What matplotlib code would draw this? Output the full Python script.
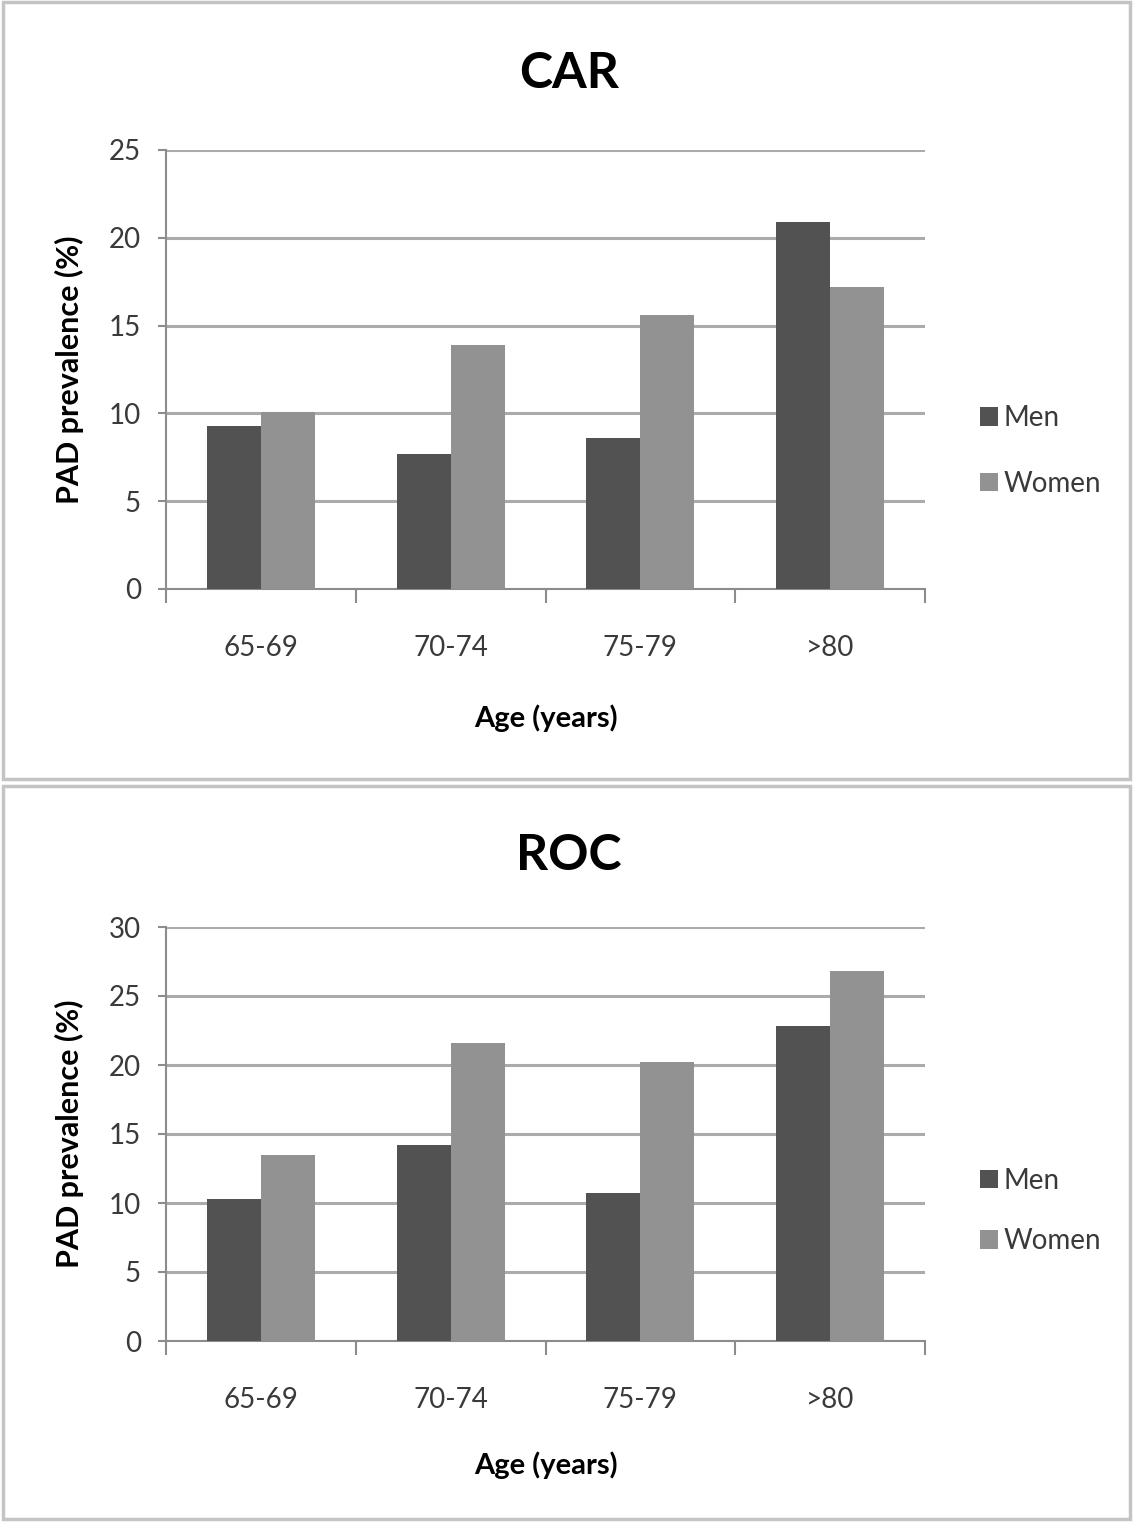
import matplotlib
matplotlib.use("Agg")
import matplotlib.pyplot as plt
from matplotlib.patches import Rectangle

plt.rcParams['font.family'] = ['Lato', 'DejaVu Sans']

categories = ["65-69", "70-74", "75-79", ">80"]
series_names = ["Men", "Women"]
car_men = [9.3, 7.7, 8.6, 20.9]
car_women = [10.1, 13.9, 15.6, 17.2]
roc_men = [10.3, 14.2, 10.7, 22.8]
roc_women = [13.5, 21.6, 20.2, 26.8]
car_yticks = [0, 5, 10, 15, 20, 25]
roc_yticks = [0, 5, 10, 15, 20, 25, 30]

W, H = 1133, 1522
fig = plt.figure(figsize=(W / 100, H / 100), dpi=100)

MEN_C = "#525252"
WOMEN_C = "#929292"
GRID_C = "#ababab"
AX_C = "#8c8c8c"
TXT_C = "#3a3a3a"


def px_axes(left, top, right, bottom):
    return fig.add_axes([left / W, (H - bottom) / H, (right - left) / W, (bottom - top) / H])


def panel(top, bottom):
    fig.patches.append(Rectangle((3 / W, (H - bottom) / H), (W - 6) / W, (bottom - top) / H,
                                 transform=fig.transFigure, fill=False,
                                 edgecolor="#c4c4c4", linewidth=2.5))


def draw(ax, title, men, women, yticks, title_y, xlabel_y, legend_y, spacing):
    n = len(categories)
    x = list(range(n))
    bw = 0.285
    ax.bar([i - bw / 2 for i in x], men, width=bw, color=MEN_C, label=series_names[0], zorder=3)
    ax.bar([i + bw / 2 for i in x], women, width=bw, color=WOMEN_C, label=series_names[1], zorder=3)
    ax.set_xlim(-0.5, n - 0.5)
    ax.set_ylim(yticks[0], yticks[-1])
    ax.set_yticks(yticks)
    ax.set_yticklabels([str(t) for t in yticks])
    ax.set_xticks([i - 0.5 for i in range(n + 1)])
    ax.set_xticklabels([])
    ax.set_xticks(x, minor=True)
    ax.set_xticklabels(categories, minor=True)
    ax.tick_params(axis='x', which='major', length=10, width=1.5, color=AX_C, direction='out')
    ax.tick_params(axis='x', which='minor', length=0, pad=33, labelsize=20, labelcolor=TXT_C)
    ax.tick_params(axis='y', length=6, width=1.5, color=AX_C, pad=12, labelsize=20, labelcolor=TXT_C)
    for s in ['top', 'right']:
        ax.spines[s].set_visible(False)
    for s in ['left', 'bottom']:
        ax.spines[s].set_color(AX_C)
        ax.spines[s].set_linewidth(1.5)
    ax.grid(axis='y', color=GRID_C, linewidth=2.2, zorder=0)
    ax.set_axisbelow(True)
    ax.set_ylabel("PAD prevalence (%)", fontsize=22, fontweight='bold', labelpad=18)
    fig.text(569 / W, 1 - title_y / H, title, fontsize=36, fontweight='bold',
             ha='center', va='center')
    fig.text(546 / W, 1 - xlabel_y / H, "Age (years)", fontsize=21, fontweight='bold',
             ha='center', va='center')
    ax.legend(loc='center left', bbox_to_anchor=(955 / W, 1 - legend_y / H),
              bbox_transform=fig.transFigure, frameon=False, fontsize=20,
              handlelength=0.65, handleheight=0.65, handletextpad=0.2, labelspacing=spacing,
              labelcolor=TXT_C)


panel(2, 779)
panel(786, 1519)
ax1 = px_axes(166, 150, 925, 589)
ax2 = px_axes(166, 927, 925, 1341)
draw(ax1, "CAR", car_men, car_women, car_yticks, 73, 718, 451, 1.42)
draw(ax2, "ROC", roc_men, roc_women, roc_yticks, 855, 1465, 1211, 1.25)

fig.savefig("out.png", dpi=100)
